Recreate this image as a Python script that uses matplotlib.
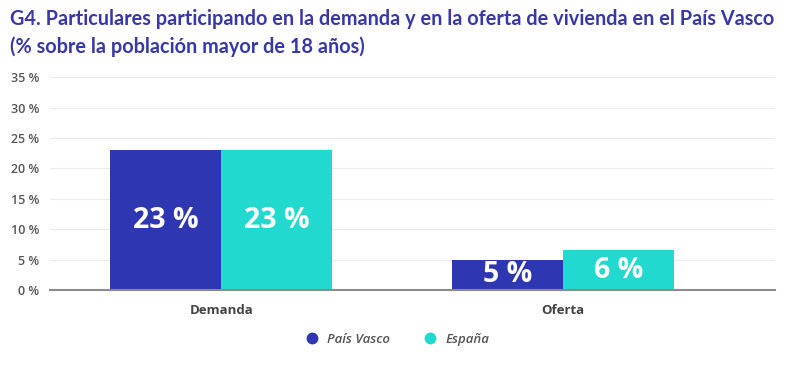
import numpy as np
import matplotlib.pyplot as plt

categories = ["Demanda", "Oferta"]
series_names = ["País Vasco", "España"]
pais_vasco = [23, 5]
espana = [23, 6.5]
labels_pv = ["23 %", "5 %"]
labels_es = ["23 %", "6 %"]
yticks = [0, 5, 10, 15, 20, 25, 30, 35]

c_pv = "#2e36b2"
c_es = "#22d9cf"
title_col = "#3838a8"

plt.rcParams['font.family'] = ['Open Sans', 'DejaVu Sans']

fig = plt.figure(figsize=(7.96, 3.69), dpi=100)
ax = fig.add_axes([0.063, 0.214, 0.911, 0.577])

x = np.arange(len(categories))
w = 0.325
b1 = ax.bar(x - w / 2, pais_vasco, w, color=c_pv, zorder=3)
b2 = ax.bar(x + w / 2, espana, w, color=c_es, zorder=3)

for bars, labs in ((b1, labels_pv), (b2, labels_es)):
    for r, lab in zip(bars, labs):
        ax.text(r.get_x() + r.get_width() / 2, r.get_height() / 2, lab,
                ha="center", va="center", color="white", fontsize=20.5,
                fontweight="bold", zorder=4)

ax.set_xlim(-0.5, 1.62)
ax.set_ylim(0, 35)
ax.set_yticks(yticks)
ax.set_yticklabels([f"{v} %" for v in yticks], color="#555555",
                   fontsize=9, fontweight="semibold")
ax.set_xticks(x)
ax.set_xticklabels(categories, color="#444444", fontsize=9.5, fontweight="bold")
ax.tick_params(length=0, pad=8)
ax.tick_params(axis="x", pad=10)
ax.grid(axis="y", color="#ececec", linewidth=0.8, zorder=0)
for s in ["top", "right", "left"]:
    ax.spines[s].set_visible(False)
ax.spines["bottom"].set_color("#8a8a8a")
ax.spines["bottom"].set_linewidth(1.5)
ax.spines["bottom"].set_zorder(5)

fig.text(0.013, 0.975, "G4. Particulares participando en la demanda y en la oferta de vivienda en el País Vasco\n(% sobre la población mayor de 18 años)",
         color=title_col, fontsize=14.3, fontweight="bold", va="top",
         ha="left", linespacing=1.45,
         family=["Lato", "DejaVu Sans"])

# legend
handles = [plt.Line2D([], [], marker="o", linestyle="", color=c, markersize=7.5)
           for c in (c_pv, c_es)]
leg = fig.legend(handles, series_names, loc="center", bbox_to_anchor=(0.495, 0.08),
                 ncol=2, frameon=False, handletextpad=0.2, columnspacing=2.0,
                 prop={"style": "italic", "weight": "semibold", "size": 9.5})
for t in leg.get_texts():
    t.set_color("#555555")

fig.savefig("out.png", dpi=100)
